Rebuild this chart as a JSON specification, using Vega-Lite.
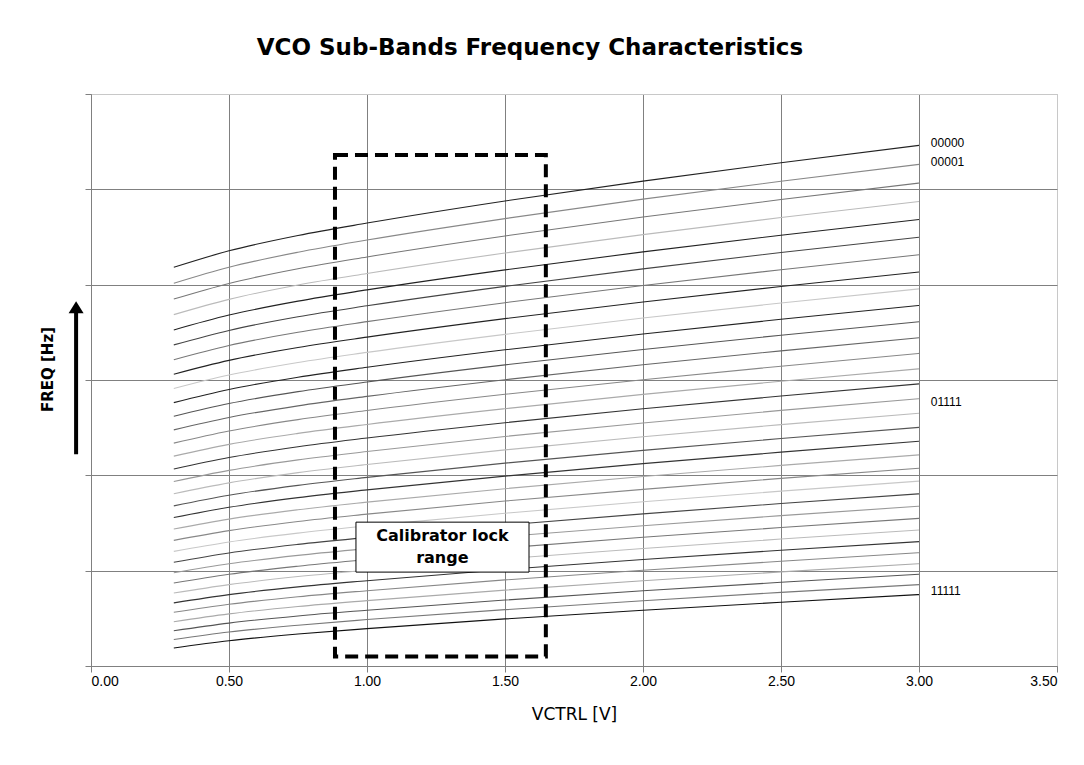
{
 "$schema": "https://vega.github.io/schema/vega-lite/v6.json",
 "width": 966, "height": 572,
 "autosize": "none",
 "padding": {"left": 91, "top": 94, "right": 27, "bottom": 99},
 "background": "white",
 "title": {"text": "VCO Sub-Bands Frequency Characteristics", "font": "DejaVu Sans", "fontSize": 23, "fontWeight": "bold", "color": "black", "anchor": "middle", "frame": "group", "dx": -44, "offset": 34},
 "config": {
  "view": {"stroke": "#c0c0c0", "strokeWidth": 1},
  "font": "Liberation Sans",
  "axis": {"labelFont": "Liberation Sans", "titleFont": "DejaVu Sans", "labelColor": "black", "titleColor": "black", "domainColor": "#808080", "tickColor": "#808080", "gridWidth": 1, "tickSize": 6}
 },
 "datasets": {
  "curves": [
{"b":"00000","v":0.3,"f":4.182},{"b":"00000","v":0.5,"f":4.355},{"b":"00000","v":0.75,"f":4.516},{"b":"00000","v":1,"f":4.646},{"b":"00000","v":1.5,"f":4.878},{"b":"00000","v":2,"f":5.086},{"b":"00000","v":2.5,"f":5.279},{"b":"00000","v":3,"f":5.461},
{"b":"00001","v":0.3,"f":4.015},{"b":"00001","v":0.5,"f":4.183},{"b":"00001","v":0.75,"f":4.340},{"b":"00001","v":1,"f":4.468},{"b":"00001","v":1.5,"f":4.693},{"b":"00001","v":2,"f":4.897},{"b":"00001","v":2.5,"f":5.085},{"b":"00001","v":3,"f":5.262},
{"b":"00010","v":0.3,"f":3.849},{"b":"00010","v":0.5,"f":4.013},{"b":"00010","v":0.75,"f":4.167},{"b":"00010","v":1,"f":4.291},{"b":"00010","v":1.5,"f":4.511},{"b":"00010","v":2,"f":4.709},{"b":"00010","v":2.5,"f":4.893},{"b":"00010","v":3,"f":5.066},
{"b":"00011","v":0.3,"f":3.686},{"b":"00011","v":0.5,"f":3.846},{"b":"00011","v":0.75,"f":3.996},{"b":"00011","v":1,"f":4.117},{"b":"00011","v":1.5,"f":4.332},{"b":"00011","v":2,"f":4.525},{"b":"00011","v":2.5,"f":4.704},{"b":"00011","v":3,"f":4.873},
{"b":"00100","v":0.3,"f":3.525},{"b":"00100","v":0.5,"f":3.681},{"b":"00100","v":0.75,"f":3.827},{"b":"00100","v":1,"f":3.945},{"b":"00100","v":1.5,"f":4.155},{"b":"00100","v":2,"f":4.344},{"b":"00100","v":2.5,"f":4.519},{"b":"00100","v":3,"f":4.683},
{"b":"00101","v":0.3,"f":3.368},{"b":"00101","v":0.5,"f":3.520},{"b":"00101","v":0.75,"f":3.663},{"b":"00101","v":1,"f":3.778},{"b":"00101","v":1.5,"f":3.982},{"b":"00101","v":2,"f":4.166},{"b":"00101","v":2.5,"f":4.337},{"b":"00101","v":3,"f":4.497},
{"b":"00110","v":0.3,"f":3.213},{"b":"00110","v":0.5,"f":3.362},{"b":"00110","v":0.75,"f":3.500},{"b":"00110","v":1,"f":3.612},{"b":"00110","v":1.5,"f":3.811},{"b":"00110","v":2,"f":3.991},{"b":"00110","v":2.5,"f":4.157},{"b":"00110","v":3,"f":4.313},
{"b":"00111","v":0.3,"f":3.061},{"b":"00111","v":0.5,"f":3.206},{"b":"00111","v":0.75,"f":3.341},{"b":"00111","v":1,"f":3.450},{"b":"00111","v":1.5,"f":3.644},{"b":"00111","v":2,"f":3.819},{"b":"00111","v":2.5,"f":3.981},{"b":"00111","v":3,"f":4.133},
{"b":"01000","v":0.3,"f":2.911},{"b":"01000","v":0.5,"f":3.052},{"b":"01000","v":0.75,"f":3.184},{"b":"01000","v":1,"f":3.290},{"b":"01000","v":1.5,"f":3.479},{"b":"01000","v":2,"f":3.650},{"b":"01000","v":2.5,"f":3.808},{"b":"01000","v":3,"f":3.956},
{"b":"01001","v":0.3,"f":2.763},{"b":"01001","v":0.5,"f":2.901},{"b":"01001","v":0.75,"f":3.029},{"b":"01001","v":1,"f":3.133},{"b":"01001","v":1.5,"f":3.317},{"b":"01001","v":2,"f":3.483},{"b":"01001","v":2.5,"f":3.637},{"b":"01001","v":3,"f":3.782},
{"b":"01010","v":0.3,"f":2.619},{"b":"01010","v":0.5,"f":2.753},{"b":"01010","v":0.75,"f":2.878},{"b":"01010","v":1,"f":2.979},{"b":"01010","v":1.5,"f":3.159},{"b":"01010","v":2,"f":3.320},{"b":"01010","v":2.5,"f":3.470},{"b":"01010","v":3,"f":3.611},
{"b":"01011","v":0.3,"f":2.477},{"b":"01011","v":0.5,"f":2.607},{"b":"01011","v":0.75,"f":2.729},{"b":"01011","v":1,"f":2.828},{"b":"01011","v":1.5,"f":3.003},{"b":"01011","v":2,"f":3.160},{"b":"01011","v":2.5,"f":3.306},{"b":"01011","v":3,"f":3.443},
{"b":"01100","v":0.3,"f":2.338},{"b":"01100","v":0.5,"f":2.465},{"b":"01100","v":0.75,"f":2.584},{"b":"01100","v":1,"f":2.680},{"b":"01100","v":1.5,"f":2.850},{"b":"01100","v":2,"f":3.003},{"b":"01100","v":2.5,"f":3.145},{"b":"01100","v":3,"f":3.279},
{"b":"01101","v":0.3,"f":2.201},{"b":"01101","v":0.5,"f":2.325},{"b":"01101","v":0.75,"f":2.440},{"b":"01101","v":1,"f":2.534},{"b":"01101","v":1.5,"f":2.699},{"b":"01101","v":2,"f":2.849},{"b":"01101","v":2.5,"f":2.987},{"b":"01101","v":3,"f":3.117},
{"b":"01110","v":0.3,"f":2.067},{"b":"01110","v":0.5,"f":2.187},{"b":"01110","v":0.75,"f":2.300},{"b":"01110","v":1,"f":2.391},{"b":"01110","v":1.5,"f":2.552},{"b":"01110","v":2,"f":2.698},{"b":"01110","v":2.5,"f":2.832},{"b":"01110","v":3,"f":2.959},
{"b":"01111","v":0.3,"f":1.935},{"b":"01111","v":0.5,"f":2.052},{"b":"01111","v":0.75,"f":2.162},{"b":"01111","v":1,"f":2.250},{"b":"01111","v":1.5,"f":2.408},{"b":"01111","v":2,"f":2.549},{"b":"01111","v":2.5,"f":2.681},{"b":"01111","v":3,"f":2.804},
{"b":"10000","v":0.3,"f":1.807},{"b":"10000","v":0.5,"f":1.921},{"b":"10000","v":0.75,"f":2.028},{"b":"10000","v":1,"f":2.114},{"b":"10000","v":1.5,"f":2.267},{"b":"10000","v":2,"f":2.404},{"b":"10000","v":2.5,"f":2.532},{"b":"10000","v":3,"f":2.652},
{"b":"10001","v":0.3,"f":1.680},{"b":"10001","v":0.5,"f":1.791},{"b":"10001","v":0.75,"f":1.895},{"b":"10001","v":1,"f":1.979},{"b":"10001","v":1.5,"f":2.128},{"b":"10001","v":2,"f":2.262},{"b":"10001","v":2.5,"f":2.386},{"b":"10001","v":3,"f":2.503},
{"b":"10010","v":0.3,"f":1.557},{"b":"10010","v":0.5,"f":1.665},{"b":"10010","v":0.75,"f":1.766},{"b":"10010","v":1,"f":1.847},{"b":"10010","v":1.5,"f":1.992},{"b":"10010","v":2,"f":2.123},{"b":"10010","v":2.5,"f":2.243},{"b":"10010","v":3,"f":2.357},
{"b":"10011","v":0.3,"f":1.436},{"b":"10011","v":0.5,"f":1.541},{"b":"10011","v":0.75,"f":1.639},{"b":"10011","v":1,"f":1.719},{"b":"10011","v":1.5,"f":1.860},{"b":"10011","v":2,"f":1.987},{"b":"10011","v":2.5,"f":2.104},{"b":"10011","v":3,"f":2.215},
{"b":"10100","v":0.3,"f":1.318},{"b":"10100","v":0.5,"f":1.420},{"b":"10100","v":0.75,"f":1.516},{"b":"10100","v":1,"f":1.593},{"b":"10100","v":1.5,"f":1.730},{"b":"10100","v":2,"f":1.853},{"b":"10100","v":2.5,"f":1.968},{"b":"10100","v":3,"f":2.075},
{"b":"10101","v":0.3,"f":1.202},{"b":"10101","v":0.5,"f":1.301},{"b":"10101","v":0.75,"f":1.394},{"b":"10101","v":1,"f":1.470},{"b":"10101","v":1.5,"f":1.603},{"b":"10101","v":2,"f":1.723},{"b":"10101","v":2.5,"f":1.834},{"b":"10101","v":3,"f":1.939},
{"b":"10110","v":0.3,"f":1.089},{"b":"10110","v":0.5,"f":1.186},{"b":"10110","v":0.75,"f":1.276},{"b":"10110","v":1,"f":1.349},{"b":"10110","v":1.5,"f":1.479},{"b":"10110","v":2,"f":1.596},{"b":"10110","v":2.5,"f":1.704},{"b":"10110","v":3,"f":1.806},
{"b":"10111","v":0.3,"f":0.978},{"b":"10111","v":0.5,"f":1.072},{"b":"10111","v":0.75,"f":1.160},{"b":"10111","v":1,"f":1.231},{"b":"10111","v":1.5,"f":1.358},{"b":"10111","v":2,"f":1.471},{"b":"10111","v":2.5,"f":1.577},{"b":"10111","v":3,"f":1.676},
{"b":"11000","v":0.3,"f":0.870},{"b":"11000","v":0.5,"f":0.962},{"b":"11000","v":0.75,"f":1.047},{"b":"11000","v":1,"f":1.116},{"b":"11000","v":1.5,"f":1.239},{"b":"11000","v":2,"f":1.350},{"b":"11000","v":2.5,"f":1.453},{"b":"11000","v":3,"f":1.549},
{"b":"11001","v":0.3,"f":0.765},{"b":"11001","v":0.5,"f":0.854},{"b":"11001","v":0.75,"f":0.938},{"b":"11001","v":1,"f":1.005},{"b":"11001","v":1.5,"f":1.125},{"b":"11001","v":2,"f":1.232},{"b":"11001","v":2.5,"f":1.332},{"b":"11001","v":3,"f":1.426},
{"b":"11010","v":0.3,"f":0.662},{"b":"11010","v":0.5,"f":0.749},{"b":"11010","v":0.75,"f":0.830},{"b":"11010","v":1,"f":0.895},{"b":"11010","v":1.5,"f":1.012},{"b":"11010","v":2,"f":1.117},{"b":"11010","v":2.5,"f":1.214},{"b":"11010","v":3,"f":1.305},
{"b":"11011","v":0.3,"f":0.563},{"b":"11011","v":0.5,"f":0.647},{"b":"11011","v":0.75,"f":0.726},{"b":"11011","v":1,"f":0.790},{"b":"11011","v":1.5,"f":0.903},{"b":"11011","v":2,"f":1.005},{"b":"11011","v":2.5,"f":1.099},{"b":"11011","v":3,"f":1.188},
{"b":"11100","v":0.3,"f":0.465},{"b":"11100","v":0.5,"f":0.547},{"b":"11100","v":0.75,"f":0.624},{"b":"11100","v":1,"f":0.686},{"b":"11100","v":1.5,"f":0.796},{"b":"11100","v":2,"f":0.895},{"b":"11100","v":2.5,"f":0.987},{"b":"11100","v":3,"f":1.073},
{"b":"11101","v":0.3,"f":0.370},{"b":"11101","v":0.5,"f":0.450},{"b":"11101","v":0.75,"f":0.525},{"b":"11101","v":1,"f":0.585},{"b":"11101","v":1.5,"f":0.692},{"b":"11101","v":2,"f":0.789},{"b":"11101","v":2.5,"f":0.878},{"b":"11101","v":3,"f":0.962},
{"b":"11110","v":0.3,"f":0.278},{"b":"11110","v":0.5,"f":0.356},{"b":"11110","v":0.75,"f":0.428},{"b":"11110","v":1,"f":0.487},{"b":"11110","v":1.5,"f":0.591},{"b":"11110","v":2,"f":0.685},{"b":"11110","v":2.5,"f":0.772},{"b":"11110","v":3,"f":0.854},
{"b":"11111","v":0.3,"f":0.189},{"b":"11111","v":0.5,"f":0.265},{"b":"11111","v":0.75,"f":0.335},{"b":"11111","v":1,"f":0.392},{"b":"11111","v":1.5,"f":0.494},{"b":"11111","v":2,"f":0.585},{"b":"11111","v":2.5,"f":0.669},{"b":"11111","v":3,"f":0.749}
  ],
  "labels": [
   {"t": "00000", "v": 3.043, "f": 5.49},
   {"t": "00001", "v": 3.043, "f": 5.283},
   {"t": "01111", "v": 3.043, "f": 2.767},
   {"t": "11111", "v": 3.043, "f": 0.786}
  ]
 },
 "layer": [
  {
   "data": {"name": "curves"},
   "mark": {"type": "line", "strokeWidth": 1.1, "interpolate": "monotone"},
   "encoding": {
    "x": {"field": "v", "type": "quantitative", "scale": {"domain": [0, 3.5], "nice": false, "zero": false},
     "axis": {"values": [0, 0.5, 1, 1.5, 2, 2.5, 3, 3.5], "format": ".2f", "title": "VCTRL [V]", "labelFontSize": 14, "labelPadding": 2, "titleFontSize": 17, "titleFontWeight": "normal", "titlePadding": 18, "grid": true,
      "gridColor": {"condition": {"test": "datum.value >= 3.5", "value": "#c8c8c8"}, "value": "#808080"}}},
    "y": {"field": "f", "type": "quantitative", "scale": {"domain": [0, 6], "nice": false, "zero": false},
     "axis": {"values": [0, 1, 2, 3, 4, 5, 6], "labels": false, "title": "FREQ [Hz]", "titleFontSize": 15, "titleFontWeight": "bold", "titlePadding": 29, "titleY": 275, "grid": true,
      "gridColor": {"condition": {"test": "datum.value >= 6", "value": "#c8c8c8"}, "value": "#808080"}}},
    "color": {"field": "b", "type": "nominal", "legend": null,
     "scale": {"range": ["#222222","#888888","#777777","#bbbbbb","#222222","#444444","#777777","#222222","#c8c8c8","#222222","#555555","#666666","#888888","#aaaaaa","#333333","#999999","#bbbbbb","#555555","#333333","#aaaaaa","#888888","#c8c8c8","#444444","#999999","#777777","#bbbbbb","#333333","#888888","#aaaaaa","#555555","#777777","#111111"]}}
   }
  },
  {
   "data": {"name": "labels"},
   "mark": {"type": "text", "align": "left", "baseline": "middle", "fontSize": 12, "color": "black", "font": "Liberation Sans"},
   "encoding": {
    "x": {"field": "v", "type": "quantitative"},
    "y": {"field": "f", "type": "quantitative"},
    "text": {"field": "t"}
   }
  },
  {
   "data": {"values": [{"v0": 0.884, "v1": 1.648, "f0": 0.1, "f1": 5.36}]},
   "mark": {"type": "rect", "fillOpacity": 0, "stroke": "black", "strokeWidth": 4, "strokeDash": [13, 7]},
   "encoding": {
    "x": {"field": "v0", "type": "quantitative"},
    "x2": {"field": "v1"},
    "y": {"field": "f0", "type": "quantitative"},
    "y2": {"field": "f1"}
   }
  },
  {
   "data": {"values": [{"v0": 0.96, "v1": 1.587, "f0": 0.985, "f1": 1.509}]},
   "mark": {"type": "rect", "fill": "white", "stroke": "black", "strokeWidth": 1},
   "encoding": {
    "x": {"field": "v0", "type": "quantitative"},
    "x2": {"field": "v1"},
    "y": {"field": "f0", "type": "quantitative"},
    "y2": {"field": "f1"}
   }
  },
  {
   "data": {"values": [{"t": ["Calibrator lock", "range"], "v": 1.273, "f": 1.36}]},
   "mark": {"type": "text", "align": "center", "baseline": "middle", "fontSize": 16, "fontWeight": "bold", "lineHeight": 22, "color": "black", "font": "DejaVu Sans"},
   "encoding": {
    "x": {"field": "v", "type": "quantitative"},
    "y": {"field": "f", "type": "quantitative"},
    "text": {"field": "t"}
   }
  },
  {
   "data": {"values": [{"v": -0.054, "f0": 2.22, "f1": 3.72}]},
   "mark": {"type": "rule", "strokeWidth": 4, "color": "black", "clip": false},
   "encoding": {
    "x": {"field": "v", "type": "quantitative"},
    "y": {"field": "f0", "type": "quantitative"},
    "y2": {"field": "f1"}
   }
  },
  {
   "data": {"values": [{"v": -0.054, "f": 3.763}]},
   "mark": {"type": "point", "shape": "M-1,0.8L0,-0.8L1,0.8Z", "size": 225, "filled": true, "color": "black", "opacity": 1, "clip": false},
   "encoding": {
    "x": {"field": "v", "type": "quantitative"},
    "y": {"field": "f", "type": "quantitative"}
   }
  }
 ]
}
